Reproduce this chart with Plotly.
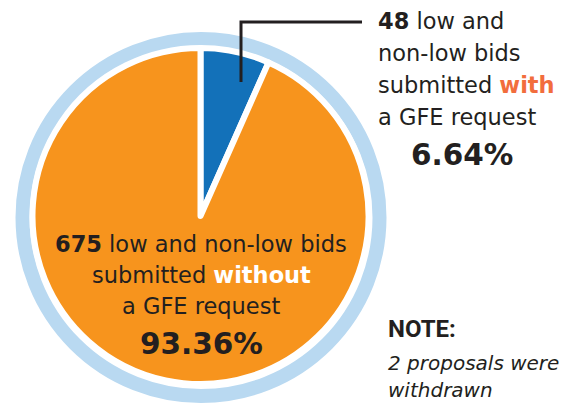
import plotly.graph_objects as go

W, H = 575, 405

# ---- data ----
labels = ["with a GFE request", "without a GFE request"]
values = [48, 675]
colors = ["#1371b9", "#f7941d"]
pct_labels = ["6.64%", "93.36%"]

with_lines = ["<b>48</b> low and", "non-low bids",
              "submitted <b><span style='color:#f26d3d'>with</span></b>", "a GFE request"]
without_lines = ["<b>675</b> low and non-low bids",
                 "submitted <b><span style='color:#ffffff'>without</span></b>", "a GFE request"]
note_title = "NOTE:"
note_lines = ["2 proposals were", "withdrawn"]


def px(x):
    return x / W


def py(y):
    return 1 - y / H


cx, cy, r = 200.5, 216, 168
TXT = "#231f20"
FONT = "DejaVu Sans"

fig = go.Figure()
fig.add_trace(go.Pie(
    labels=labels, values=values, sort=False, direction="clockwise", rotation=0,
    marker=dict(colors=colors, line=dict(color="white", width=6)),
    textinfo="none", hoverinfo="none", showlegend=False,
    domain=dict(x=[px(cx - r), px(cx + r)], y=[py(cy + r), py(cy - r)]),
))

rcx, rcy, ring_r = 201, 217.5, 178.5
shapes = [
    dict(type="circle", xref="paper", yref="paper",
         x0=px(rcx - ring_r), x1=px(rcx + ring_r), y0=py(rcy + ring_r), y1=py(rcy - ring_r),
         line=dict(color="#b9d9f1", width=14), layer="below"),
    dict(type="path", xref="paper", yref="paper",
         path=f"M {px(241)} {py(82)} L {px(241)} {py(22)} L {px(362)} {py(22)}",
         line=dict(color=TXT, width=3)),
]

ann = []
for i, t in enumerate(with_lines):
    ann.append(dict(x=px(376), y=py(21 + i * 32), text=t, xanchor="left", yanchor="middle",
                    font=dict(family=FONT, size=22.5, color=TXT)))
ann.append(dict(x=px(462), y=py(155), text=f"<b>{pct_labels[0]}</b>", xanchor="center",
                yanchor="middle", font=dict(family=FONT, size=29.5, color=TXT)))
for t, yy in zip(without_lines, [244, 274.5, 306]):
    ann.append(dict(x=px(201), y=py(yy), text=t, xanchor="center", yanchor="middle",
                    font=dict(family=FONT, size=22.5, color=TXT)))
ann.append(dict(x=px(201), y=py(343.5), text=f"<b>{pct_labels[1]}</b>", xanchor="center",
                yanchor="middle", font=dict(family=FONT, size=29.5, color=TXT)))
ann.append(dict(x=px(386), y=py(329), text=f"<b>{note_title}</b>", xanchor="left",
                yanchor="middle", font=dict(family="Roboto", size=24, color=TXT)))
for t, yy in zip(note_lines, [363, 389.5]):
    ann.append(dict(x=px(386), y=py(yy), text=f"<i>{t}</i>", xanchor="left", yanchor="middle",
                    font=dict(family=FONT, size=20, color=TXT)))
for a in ann:
    a.update(xref="paper", yref="paper", showarrow=False)

fig.update_layout(width=W, height=H, margin=dict(l=0, r=0, t=0, b=0),
                  paper_bgcolor="white", plot_bgcolor="white",
                  shapes=shapes, annotations=ann)
fig.write_html("out.html", config={"displayModeBar": False},
               post_script="document.body.style.margin='0';")
